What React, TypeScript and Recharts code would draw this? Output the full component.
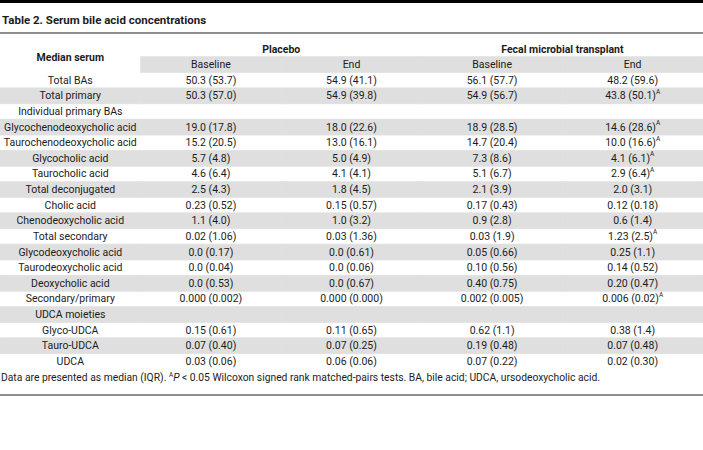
import React from 'react';
import { ComposedChart, Bar, XAxis, YAxis } from 'recharts';

const title = 'Table 2. Serum bile acid concentrations';
const groupHeaders = ['Median serum', 'Placebo', '', 'Fecal microbial transplant', ''];
const subHeaders = ['', 'Baseline', 'End', 'Baseline', 'End'];

const rowLabels = [
  'Total BAs',
  'Total primary',
  'Individual primary BAs',
  'Glycochenodeoxycholic acid',
  'Taurochenodeoxycholic acid',
  'Glycocholic acid',
  'Taurocholic acid',
  'Total deconjugated',
  'Cholic acid',
  'Chenodeoxycholic acid',
  'Total secondary',
  'Glycodeoxycholic acid',
  'Taurodeoxycholic acid',
  'Deoxycholic acid',
  'Secondary/primary',
  'UDCA moieties',
  'Glyco-UDCA',
  'Tauro-UDCA',
  'UDCA',
];

const placeboBaseline = [
  '50.3 (53.7)', '50.3 (57.0)', '', '19.0 (17.8)', '15.2 (20.5)', '5.7 (4.8)', '4.6 (6.4)',
  '2.5 (4.3)', '0.23 (0.52)', '1.1 (4.0)', '0.02 (1.06)', '0.0 (0.17)', '0.0 (0.04)',
  '0.0 (0.53)', '0.000 (0.002)', '', '0.15 (0.61)', '0.07 (0.40)', '0.03 (0.06)',
];

const placeboEnd = [
  '54.9 (41.1)', '54.9 (39.8)', '', '18.0 (22.6)', '13.0 (16.1)', '5.0 (4.9)', '4.1 (4.1)',
  '1.8 (4.5)', '0.15 (0.57)', '1.0 (3.2)', '0.03 (1.36)', '0.0 (0.61)', '0.0 (0.06)',
  '0.0 (0.67)', '0.000 (0.000)', '', '0.11 (0.65)', '0.07 (0.25)', '0.06 (0.06)',
];

const fmtBaseline = [
  '56.1 (57.7)', '54.9 (56.7)', '', '18.9 (28.5)', '14.7 (20.4)', '7.3 (8.6)', '5.1 (6.7)',
  '2.1 (3.9)', '0.17 (0.43)', '0.9 (2.8)', '0.03 (1.9)', '0.05 (0.66)', '0.10 (0.56)',
  '0.40 (0.75)', '0.002 (0.005)', '', '0.62 (1.1)', '0.19 (0.48)', '0.07 (0.22)',
];

const fmtEnd = [
  '48.2 (59.6)', '43.8 (50.1)', '', '14.6 (28.6)', '10.0 (16.6)', '4.1 (6.1)', '2.9 (6.4)',
  '2.0 (3.1)', '0.12 (0.18)', '0.6 (1.4)', '1.23 (2.5)', '0.25 (1.1)', '0.14 (0.52)',
  '0.20 (0.47)', '0.006 (0.02)', '', '0.38 (1.4)', '0.07 (0.48)', '0.02 (0.30)',
];

const fmtEndSignificant = [
  false, true, false, true, true, true, true, false, false, false, true, false, false,
  false, true, false, false, false, false,
];

const FONT = 'Roboto, "Noto Sans", sans-serif';
const GRAY = '#dfdfdf';
const TEXT = '#1c1c1c';
const NCOLS = 5;

type TableRow = {
  key: string;
  kind: 'group' | 'sub' | 'body';
  idx: number;
  texts: string[];
  sig: boolean[];
  c0: number;
  c1: number;
  c2: number;
  c3: number;
  c4: number;
};

const unit = { c0: 1, c1: 1, c2: 1, c3: 1, c4: 1 };

const tableRows: TableRow[] = [
  { key: 'hdr-group', kind: 'group', idx: -2, texts: groupHeaders, sig: [false, false, false, false, false], ...unit },
  { key: 'hdr-sub', kind: 'sub', idx: -1, texts: subHeaders, sig: [false, false, false, false, false], ...unit },
  ...rowLabels.map((label, i) => ({
    key: label,
    kind: 'body' as const,
    idx: i,
    texts: [label, placeboBaseline[i], placeboEnd[i], fmtBaseline[i], fmtEnd[i]],
    sig: [false, false, false, false, fmtEndSignificant[i]],
    ...unit,
  })),
];

const makeShape = (c: number) => (props: any) => {
  const { x, y, width, height, payload } = props;
  const row: TableRow = payload;
  if (!row) return <g />;
  let fill = '';
  if (row.kind === 'body' && row.idx % 2 === 1) fill = GRAY;
  if (row.kind === 'sub' && c > 0) fill = GRAY;
  const text = row.texts[c];
  let tx = x + width / 2;
  let ty = y + height / 2;
  let weight = 400;
  if (row.kind === 'group') {
    weight = 700;
    if (c === 0) ty = y + height;
    else tx = x + width;
  }
  return (
    <g>
      {fill && (
        <rect x={x} y={y} width={width} height={height} fill={fill} stroke={fill} strokeWidth={0.6} />
      )}
      {text && (
        <text
          x={tx}
          y={ty}
          textAnchor="middle"
          dominantBaseline="central"
          fontFamily={FONT}
          fontSize={10.5}
          fontWeight={weight}
          fill={TEXT}
        >
          {text}
          {row.sig[c] && (
            <tspan fontSize={6.5} dy={-4}>
              A
            </tspan>
          )}
        </text>
      )}
    </g>
  );
};

export default function App() {
  return (
    <div
      style={{
        position: 'absolute',
        left: 0,
        top: 0,
        width: 703,
        height: 450,
        background: '#fff',
        fontFamily: FONT,
        color: TEXT,
        overflow: 'hidden',
      }}
    >
      <div style={{ position: 'absolute', left: 0, top: 0, width: 703, height: 3, background: '#000' }} />
      <div
        style={{
          position: 'absolute',
          left: 2,
          top: 13,
          fontSize: 11.5,
          lineHeight: '14px',
          fontWeight: 700,
          whiteSpace: 'nowrap',
        }}
      >
        {title}
      </div>
      <div style={{ position: 'absolute', left: 0, top: 32, width: 703, height: 2, background: '#8e8e8e' }} />
      <div style={{ position: 'absolute', left: 0, top: 0 }}>
        <ComposedChart
          width={703}
          height={450}
          layout="vertical"
          data={tableRows}
          margin={{ top: 41, right: 0, bottom: 81, left: 0 }}
          barCategoryGap={0}
          barGap={0}
        >
          <XAxis type="number" domain={[0, NCOLS]} hide />
          <YAxis type="category" dataKey="key" hide />
          {[0, 1, 2, 3, 4].map((c) => (
            <Bar
              key={c}
              dataKey={`c${c}`}
              stackId="cols"
              isAnimationActive={false}
              shape={makeShape(c)}
            />
          ))}
        </ComposedChart>
      </div>
      <div
        style={{
          position: 'absolute',
          left: 1,
          top: 371,
          fontSize: 10.3,
          lineHeight: '14px',
          whiteSpace: 'nowrap',
        }}
      >
        Data are presented as median (IQR).{' '}
        <sup style={{ fontSize: 6.5, lineHeight: 0 }}>A</sup>
        <i>P</i> &lt; 0.05 Wilcoxon signed rank matched-pairs tests. BA, bile acid; UDCA, ursodeoxycholic acid.
      </div>
      <div style={{ position: 'absolute', left: 0, top: 394, width: 703, height: 2, background: '#8e8e8e' }} />
    </div>
  );
}
